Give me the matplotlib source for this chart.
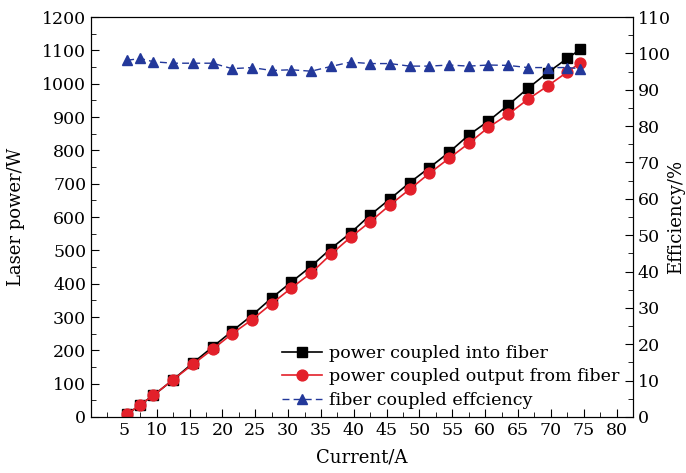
import numpy as np
import matplotlib.pyplot as plt
from matplotlib.ticker import MultipleLocator

plt.rcParams['font.family'] = ['DejaVu Serif']

current = [5.5, 7.5, 9.5, 12.5, 15.5, 18.5, 21.5, 24.5, 27.5, 30.5, 33.5, 36.5,
           39.5, 42.5, 45.5, 48.5, 51.5, 54.5, 57.5, 60.5, 63.5, 66.5, 69.5, 72.5, 74.5]
power_in = [8, 37, 65, 112, 162, 210, 258, 305, 357, 405, 452, 505,
            552, 606, 654, 703, 748, 794, 846, 888, 936, 986, 1033, 1076, 1103]
power_out = [8, 37, 65, 112, 158, 203, 250, 292, 340, 387, 432, 488,
             539, 586, 636, 683, 731, 776, 821, 869, 908, 953, 993, 1035, 1063]
efficiency = [98.1, 98.6, 97.7, 97.3, 97.3, 97.3, 95.8, 96.1, 95.3, 95.5, 95.1, 96.4,
              97.6, 97.2, 97.2, 96.5, 96.5, 96.8, 96.5, 96.8, 96.7, 96.1, 96.1, 96.1, 95.8]

fig = plt.figure(figsize=(6.86, 4.73), dpi=100)
ax = fig.add_axes([0.1327, 0.1184, 0.7900, 0.8456])
ax2 = ax.twinx()

l1, = ax.plot(current, power_in, color='black', marker='s', markersize=6.8, lw=1.2,
              label='power coupled into fiber')
l2, = ax.plot(current, power_out, color='#e3202a', marker='o', markersize=7.8, lw=1.2,
              label='power coupled output from fiber')
l3, = ax2.plot(current, efficiency, color='#23389a', marker='^', markersize=7.8, lw=1.0,
               ls=(0, (5, 3)), label='fiber coupled effciency')

ax.set_xlim(0, 82.5)
ax.set_ylim(0, 1200)
ax2.set_ylim(0, 110)
ax.set_xticks(np.arange(5, 81, 5))
ax.xaxis.set_minor_locator(MultipleLocator(2.5))
ax.yaxis.set_major_locator(MultipleLocator(100))
ax.yaxis.set_minor_locator(MultipleLocator(50))
ax2.yaxis.set_major_locator(MultipleLocator(10))
ax2.yaxis.set_minor_locator(MultipleLocator(5))

ax.tick_params(which='both', direction='in', top=False, right=False, labelsize=12.5)
ax.tick_params(which='major', length=6)
ax.tick_params(which='minor', length=3.5)
ax2.tick_params(which='both', direction='in', labelsize=12.5)
ax2.tick_params(which='major', length=6)
ax2.tick_params(which='minor', length=3.5)

ax.set_xlabel('Current/A', fontsize=13)
ax.xaxis.set_label_coords(0.5, -0.08)
ax.set_ylabel('Laser power/W', fontsize=13)
ax.yaxis.set_label_coords(-0.122, 0.5)
ax2.set_ylabel('Efficiency/%', fontsize=13)
ax2.yaxis.set_label_coords(1.063, 0.5)

ax2.legend(handles=[l1, l2, l3], loc='lower right', bbox_to_anchor=(0.99, 0.0),
           frameon=False, fontsize=12.6, handlelength=2.3, handletextpad=0.4,
           labelspacing=0.38, borderaxespad=0.05)

fig.savefig('out.png', dpi=100)
